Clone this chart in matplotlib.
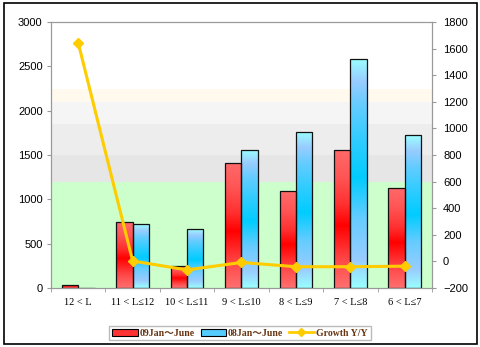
import numpy as np
import matplotlib
matplotlib.use("Agg")
import matplotlib.pyplot as plt
from matplotlib.colors import LinearSegmentedColormap
from matplotlib.patches import Rectangle
from matplotlib.lines import Line2D
from matplotlib.patches import Patch

categories = ["12 < L", "11 < L≤12", "10 < L≤11", "9 < L≤10", "8 < L≤9", "7 < L≤8", "6 < L≤7"]
sales_09 = [30, 740, 245, 1410, 1090, 1560, 1130]
sales_08 = [0, 720, 660, 1560, 1765, 2585, 1720]
growth = [1643, 3, -64, -8, -40, -40, -36]

left_ticks = [0, 500, 1000, 1500, 2000, 2500, 3000]
right_ticks = [-200, 0, 200, 400, 600, 800, 1000, 1200, 1400, 1600, 1800]

legend_labels = ["09Jan～June", "08Jan～June", "Growth Y/Y"]

fig = plt.figure(figsize=(4.8, 3.47), dpi=100)
ax = fig.add_axes([51/480, 1-288/347, (432-51)/480, (288-22)/347])

# background bands
bands = [(0, 1200, "#CCFFCC"), (1200, 1500, "#E6E6E6"), (1500, 1850, "#EDEDED"),
         (1850, 2100, "#F5F5F5"), (2100, 2250, "#FFF9EE")]
for lo, hi, c in bands:
    ax.axhspan(lo, hi, color=c, zorder=0, lw=0)

red_cmap = LinearSegmentedColormap.from_list("r", [
    (0.0, "#FF7070"), (0.2, "#FF4848"), (0.45, "#FF0000"), (0.6, "#FF3030"),
    (0.8, "#FF5555"), (1.0, "#FF6A6A")])
blue_cmap = LinearSegmentedColormap.from_list("b", [
    (0.0, "#99FFFF"), (0.12, "#99CCFF"), (0.3, "#66CCFF"), (0.48, "#00CCFF"),
    (0.65, "#33CCFF"), (0.8, "#66CCFF"), (0.9, "#99CCFF"), (1.0, "#99FFFF")])
grad = np.linspace(0, 1, 256).reshape(-1, 1)

x = np.arange(len(categories))
w = 0.3

def grad_bars(xs, vals, cmap):
    bars = ax.bar(xs, vals, width=w, facecolor="none", edgecolor="#111111", lw=0.9, zorder=3)
    for b in bars:
        h = b.get_height()
        if h <= 0:
            continue
        x0 = b.get_x()
        im = ax.imshow(grad, cmap=cmap, aspect="auto", origin="lower",
                       extent=[x0, x0 + b.get_width(), 0, h], zorder=2)
        im.set_clip_path(b)
    return bars

grad_bars(x - w/2, sales_09, red_cmap)
grad_bars(x + w/2, sales_08, blue_cmap)

ax.set_xlim(-0.5, len(categories) - 0.5)
ax.set_ylim(0, 3000)
ax.set_yticks(left_ticks)
ax.set_xticks(x)
ax.set_xticklabels(categories, fontsize=7.5, family=["Liberation Serif", "DejaVu Sans"])
ax.set_xticks(np.arange(-0.5, len(categories), 1), minor=True)
ax.tick_params(axis="x", which="major", length=0, pad=7)
ax.tick_params(axis="x", which="minor", length=3, color="#999999")
ax.tick_params(axis="y", length=3, color="#999999", labelsize=8, pad=3)
for lab in ax.get_yticklabels():
    lab.set_family("Liberation Sans")
for s in ax.spines.values():
    s.set_color("#999999")
    s.set_linewidth(0.8)

ax2 = ax.twinx()
ax2.plot(x, growth, color="#FFCC00", lw=2.2, marker="D", markersize=5,
         markerfacecolor="#FFCC00", markeredgecolor="#FFCC00", zorder=5)
ax2.set_ylim(-200, 1800)
ax2.set_yticks(right_ticks)
ax2.tick_params(axis="y", length=3, color="#999999", labelsize=8, pad=5)
for lab in ax2.get_yticklabels():
    lab.set_family("Liberation Sans")
for s in ax2.spines.values():
    s.set_color("#999999")
    s.set_linewidth(0.8)

handles = [Patch(facecolor="#FF3333", edgecolor="black", lw=0.8),
           Patch(facecolor="#55CCFF", edgecolor="black", lw=0.8),
           Line2D([0], [0], color="#FFCC00", lw=2, marker="D", markersize=4)]
leg = fig.legend(handles, legend_labels, loc="center", bbox_to_anchor=(0.5, 1-333/347),
                 ncol=3, frameon=True, fancybox=False, edgecolor="#AAAAAA",
                 prop={"family": ["Liberation Serif", "Noto Sans CJK SC"], "size": 7, "weight": "bold"},
                 handlelength=2.6, handleheight=0.7, columnspacing=0.6, handletextpad=0.2,
                 borderpad=0.3, borderaxespad=0)
for t in leg.get_texts():
    t.set_color("#663311")

fig.patches.append(Rectangle((4/480, 3/347), 473/480, 341/347, transform=fig.transFigure,
                             fill=False, edgecolor="black", lw=1.2))

fig.savefig("out.png", dpi=100)
